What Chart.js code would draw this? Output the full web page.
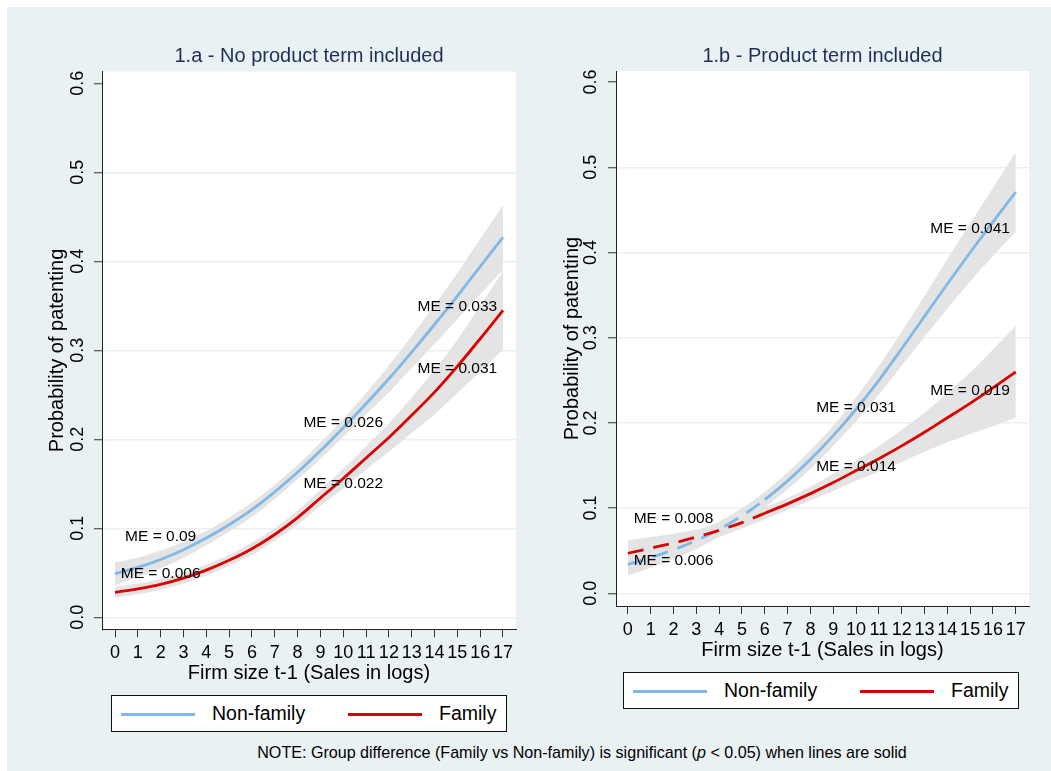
<!DOCTYPE html>
<html>
<head>
<meta charset="utf-8">
<title>Probability of patenting by firm size</title>
<script src="https://cdn.jsdelivr.net/npm/chart.js@4.4.1/dist/chart.umd.min.js"></script>
<style>
  html, body { margin: 0; padding: 0; background: #ffffff; }
  body { width: 1051px; height: 771px; position: relative; overflow: hidden;
         font-family: "Liberation Sans", Arial, Helvetica, sans-serif; }
  #bg { position: absolute; left: 7px; top: 7px; right: 0; bottom: 0; background: #eaf1f3; }
  canvas { position: absolute; top: 0; }
  #panelA { left: 0; }
  #panelB { left: 530px; }
  .legend { position: absolute; width: 396px; height: 37px; box-sizing: border-box;
            border: 1px solid #111; background: #fff; }
  .legend .swatch { position: absolute; top: 16.5px; width: 74px; height: 3px; }
  .legend .lbl { position: absolute; top: 0; line-height: 35px; font-size: 19.5px; color: #000; white-space: nowrap; }
  #note { position: absolute; top: 743px; left: 582px; transform: translateX(-50%);
          font-size: 16.1px; line-height: 18px; color: #000; white-space: nowrap; }
</style>
</head>
<body>
<div id="bg"></div>
<canvas id="panelA" width="530" height="685"></canvas>
<canvas id="panelB" width="521" height="662"></canvas>
<div class="legend" id="legendA" style="left:111px; top:695px;"></div>
<div class="legend" id="legendB" style="left:623px; top:672px;"></div>
<div id="note">NOTE: Group difference (Family vs Non-family) is significant (<i>p</i> &lt; 0.05) when lines are solid</div>

<script>
// Firm size t-1 (sales in logs) and probability ticks
const firmSize = [0, 1, 2, 3, 4, 5, 6, 7, 8, 9, 10, 11, 12, 13, 14, 15, 16, 17];
const probTicks = [0, 0.1, 0.2, 0.3, 0.4, 0.5, 0.6];

// 1.a - No product term included
const nonFamilyA      = [0.049, 0.056, 0.065, 0.076, 0.089, 0.104, 0.121, 0.141, 0.163, 0.187, 0.213, 0.240, 0.268, 0.298, 0.329, 0.361, 0.394, 0.427];
const nonFamilyA_low  = [0.036, 0.045, 0.055, 0.067, 0.081, 0.096, 0.113, 0.133, 0.155, 0.178, 0.203, 0.228, 0.253, 0.280, 0.307, 0.335, 0.363, 0.390];
const nonFamilyA_high = [0.062, 0.067, 0.075, 0.085, 0.097, 0.112, 0.129, 0.149, 0.171, 0.196, 0.223, 0.252, 0.283, 0.316, 0.351, 0.387, 0.425, 0.463];
const familyA         = [0.028, 0.032, 0.037, 0.044, 0.053, 0.064, 0.077, 0.093, 0.112, 0.134, 0.156, 0.179, 0.202, 0.227, 0.253, 0.282, 0.313, 0.345];
const familyA_low     = [0.022, 0.026, 0.031, 0.038, 0.047, 0.058, 0.070, 0.086, 0.104, 0.125, 0.145, 0.166, 0.186, 0.207, 0.228, 0.252, 0.276, 0.301];
const familyA_high    = [0.034, 0.038, 0.043, 0.050, 0.059, 0.070, 0.084, 0.100, 0.120, 0.143, 0.167, 0.192, 0.218, 0.247, 0.278, 0.312, 0.350, 0.389];

// 1.b - Product term included
const nonFamilyB      = [0.034, 0.042, 0.051, 0.062, 0.075, 0.091, 0.110, 0.132, 0.157, 0.185, 0.216, 0.250, 0.287, 0.325, 0.363, 0.400, 0.436, 0.471];
const nonFamilyB_low  = [0.021, 0.030, 0.040, 0.052, 0.066, 0.082, 0.101, 0.122, 0.146, 0.173, 0.202, 0.233, 0.267, 0.301, 0.334, 0.366, 0.396, 0.424];
const nonFamilyB_high = [0.047, 0.054, 0.062, 0.072, 0.084, 0.100, 0.119, 0.142, 0.168, 0.197, 0.230, 0.267, 0.307, 0.349, 0.392, 0.434, 0.476, 0.518];
const familyB         = [0.047, 0.053, 0.059, 0.066, 0.074, 0.083, 0.094, 0.105, 0.117, 0.130, 0.144, 0.158, 0.173, 0.189, 0.206, 0.223, 0.241, 0.260];
const familyB_low     = [0.032, 0.040, 0.048, 0.057, 0.066, 0.076, 0.087, 0.098, 0.109, 0.120, 0.132, 0.143, 0.154, 0.166, 0.177, 0.187, 0.196, 0.206];
const familyB_high    = [0.062, 0.066, 0.070, 0.075, 0.082, 0.090, 0.101, 0.112, 0.125, 0.140, 0.156, 0.173, 0.192, 0.212, 0.235, 0.259, 0.286, 0.314];

// Group difference becomes significant from this firm size on (model 1.b)
const significantFromB = 6;

// Marginal-effect annotations
const meTextA = ['ME = 0.09', 'ME = 0.006', 'ME = 0.026', 'ME = 0.022', 'ME = 0.033', 'ME = 0.031'];
const meTextB = ['ME = 0.008', 'ME = 0.006', 'ME = 0.031', 'ME = 0.014', 'ME = 0.041', 'ME = 0.019'];
const meAnchorX = [2, 2, 10, 10, 15, 15];
const meAnchorYA = [0.090, 0.049, 0.219, 0.150, 0.349, 0.279];
const meAnchorYB = [0.088, 0.038, 0.218, 0.148, 0.428, 0.238];

const seriesNames = ['Non-family', 'Family'];
const BLUE = '#80b9e7';
const RED = '#dd0000';
const BAND = '#e4e4e4';
const FONT = '"Liberation Sans", Arial, Helvetica, sans-serif';

Chart.defaults.font.family = FONT;
Chart.defaults.color = '#000';

const pts = ys => firmSize.map((x, i) => ({ x, y: ys[i] }));

const plotBackground = {
  id: 'plotBackground',
  beforeDraw(chart) {
    const { ctx, chartArea: a } = chart;
    ctx.save();
    ctx.fillStyle = '#ffffff';
    ctx.fillRect(a.left, a.top, a.right - a.left, a.bottom - a.top);
    ctx.restore();
  }
};

function meLabels(texts, ys) {
  return {
    id: 'meLabels',
    afterDatasetsDraw(chart) {
      const { ctx, scales: { x, y } } = chart;
      ctx.save();
      ctx.font = '15.5px ' + FONT;
      ctx.fillStyle = '#000';
      ctx.textAlign = 'center';
      ctx.textBaseline = 'middle';
      texts.forEach((t, i) => ctx.fillText(t, x.getPixelForValue(meAnchorX[i]), y.getPixelForValue(ys[i])));
      ctx.restore();
    }
  };
}

function bandPair(high, low) {
  const common = { pointRadius: 0, borderWidth: 0, borderColor: 'rgba(0,0,0,0)',
                   backgroundColor: BAND, cubicInterpolationMode: 'monotone' };
  return [
    Object.assign({ data: pts(high), fill: '+1' }, common),
    Object.assign({ data: pts(low), fill: false }, common)
  ];
}

function curve(values, color, dashUntil) {
  return {
    label: '',
    data: pts(values),
    borderColor: color,
    borderWidth: 2.8,
    pointRadius: 0,
    fill: false,
    cubicInterpolationMode: 'monotone',
    borderCapStyle: 'butt',
    segment: {
      borderDash: ctx => (dashUntil != null && ctx.p1.parsed.x <= dashUntil) ? [16, 10] : undefined
    }
  };
}

function makePanel(canvasId, cfg) {
  return new Chart(document.getElementById(canvasId), {
    type: 'line',
    data: {
      datasets: [
        ...bandPair(cfg.nfHigh, cfg.nfLow),
        ...bandPair(cfg.fHigh, cfg.fLow),
        curve(cfg.family, RED, cfg.dashUntil),
        curve(cfg.nonFamily, BLUE, cfg.dashUntil)
      ]
    },
    options: {
      responsive: false,
      devicePixelRatio: 1,
      animation: false,
      events: [],
      layout: { padding: { left: 0, right: cfg.padRight, top: 0, bottom: 0 } },
      plugins: {
        legend: { display: false },
        tooltip: { enabled: false },
        filler: { drawTime: 'beforeDatasetsDraw' },
        title: {
          display: true,
          text: cfg.title,
          fullSize: false,
          color: '#1e2d5a',
          font: { size: 20, weight: 'normal' },
          padding: { top: 44, bottom: cfg.titleBottom }
        }
      },
      scales: {
        x: {
          type: 'linear',
          min: cfg.xMin, max: cfg.xMax,
          afterBuildTicks: s => { s.ticks = firmSize.map(v => ({ value: v })); },
          afterFit: s => { s.height = cfg.xAxisHeight; },
          ticks: { autoSkip: false, minRotation: 0, maxRotation: 0, padding: 5.3,
                   font: { size: 18 }, color: '#000', callback: v => String(v) },
          grid: { drawOnChartArea: false, drawTicks: true, tickLength: 8, tickColor: '#333', tickWidth: 1 },
          border: { display: true, color: '#222', width: 1 },
          title: { display: true, text: 'Firm size t-1 (Sales in logs)', font: { size: 20 },
                   color: '#000', padding: { top: 0, bottom: 0 } }
        },
        y: {
          type: 'linear',
          min: cfg.yMin, max: cfg.yMax,
          afterBuildTicks: s => { s.ticks = probTicks.map(v => ({ value: v })); },
          afterFit: s => { s.width = cfg.yAxisWidth; },
          ticks: { minRotation: 90, maxRotation: 90, crossAlign: 'center', padding: cfg.yTickPad,
                   font: { size: 18 }, color: '#000', callback: v => v.toFixed(1) },
          grid: {
            color: c => (c.tick && c.tick.value >= 0.6) ? 'rgba(0,0,0,0)' : '#eaf1f3',
            lineWidth: 1.5,
            drawTicks: true, tickLength: 8, tickColor: '#333', tickWidth: 1
          },
          border: { display: true, color: '#222', width: 1 },
          title: { display: true, text: 'Probability of patenting', font: { size: 20 },
                   color: '#000', padding: { top: cfg.yTitlePad, bottom: 0 } }
        }
      }
    },
    plugins: [plotBackground, meLabels(cfg.meText, cfg.meY)]
  });
}

makePanel('panelA', {
  title: '1.a - No product term included',
  nonFamily: nonFamilyA, nfLow: nonFamilyA_low, nfHigh: nonFamilyA_high,
  family: familyA, fLow: familyA_low, fHigh: familyA_high,
  dashUntil: null,
  meText: meTextA, meY: meAnchorYA,
  xMin: -0.57, xMax: 17.57, yMin: -0.0135, yMax: 0.6133,
  yAxisWidth: 102, padRight: 14, xAxisHeight: 55.7, titleBottom: 3.5,
  yTickPad: 3.5, yTitlePad: 45
});

makePanel('panelB', {
  title: '1.b - Product term included',
  nonFamily: nonFamilyB, nfLow: nonFamilyB_low, nfHigh: nonFamilyB_high,
  family: familyB, fLow: familyB_low, fHigh: familyB_high,
  dashUntil: significantFromB,
  meText: meTextB, meY: meAnchorYB,
  xMin: -0.52, xMax: 17.58, yMin: -0.0149, yMax: 0.6130,
  yAxisWidth: 86, padRight: 22, xAxisHeight: 56, titleBottom: 3,
  yTickPad: 4.5, yTitlePad: 30
});

// Legends below each panel
function buildLegend(id) {
  const box = document.getElementById(id);
  const colors = [BLUE, RED];
  const swatchLeft = [8.5, 236];
  const textLeft = [100, 327];
  seriesNames.forEach((name, i) => {
    const sw = document.createElement('div');
    sw.className = 'swatch';
    sw.style.left = swatchLeft[i] + 'px';
    sw.style.background = colors[i];
    box.appendChild(sw);
    const t = document.createElement('div');
    t.className = 'lbl';
    t.style.left = textLeft[i] + 'px';
    t.textContent = name;
    box.appendChild(t);
  });
}
buildLegend('legendA');
buildLegend('legendB');
</script>
</body>
</html>
